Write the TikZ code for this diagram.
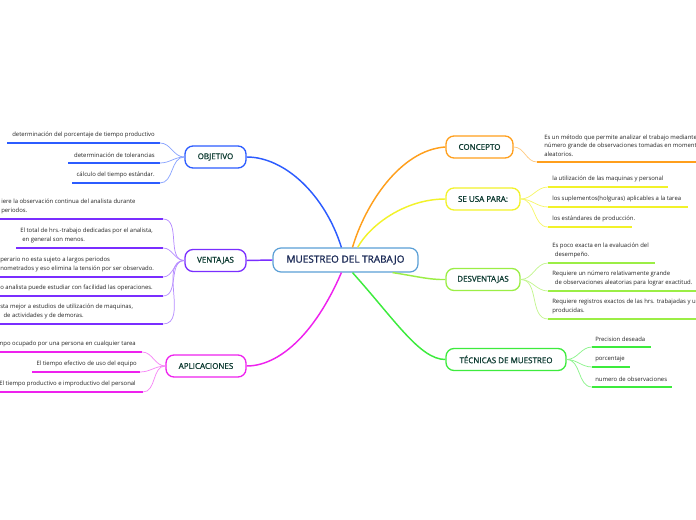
\documentclass[tikz,border=0pt]{standalone}
\usepackage{fontspec}
\setmainfont{Open Sans}
\newfontfamily\topicfont[FakeBold=1.2]{Open Sans}
\usepackage{xcolor}
\usepackage{tikz}

\definecolor{objblue}{HTML}{2C5CFF}
\definecolor{ventviolet}{HTML}{7A2EFF}
\definecolor{aplmagenta}{HTML}{EE22EE}
\definecolor{concorange}{HTML}{FF9F1C}
\definecolor{usayellow}{HTML}{F2F22A}
\definecolor{desvlime}{HTML}{9BEE45}
\definecolor{tecgreen}{HTML}{3DEB3D}
\definecolor{mainblue}{HTML}{5A9FD6}
\definecolor{nodetext}{HTML}{0F3D33}
\definecolor{maintext}{HTML}{1C2B57}
\definecolor{leaftext}{HTML}{222222}

\tikzset{
  topic/.style={draw, line width=1pt, rounded corners=6pt, fill=white,
    minimum height=16.5pt, inner sep=0pt, text=nodetext,
    font=\topicfont\fontsize{6}{7}\selectfont},
  leaf/.style={inner sep=0pt, text=leaftext,
    font=\fontsize{4.45}{6.6}\selectfont},
  uline/.style={line width=1.4pt},
  twig/.style={line width=0.55pt},
  branch/.style={line width=1.1pt}
}

\begin{document}
\begin{tikzpicture}[x=0.75pt, y=-0.75pt]
        \useasboundingbox (0,0) rectangle (696,520);

        % Central topic
        \node[draw=mainblue, line width=0.9pt, rounded corners=6pt, fill=white,
              minimum width=108.75pt, minimum height=18pt, inner sep=0pt,
              text=maintext, font=\topicfont\fontsize{7.5}{9}\selectfont] (main) at (345.5,260) {MUESTREO DEL TRABAJO};

        % Main topics
        \node[topic, draw=objblue, minimum width=45.75pt] (obj) at (215.5,157) {OBJETIVO};
        \node[topic, draw=ventviolet, minimum width=45.75pt] (vent) at (215.5,260.5) {VENTAJAS};
        \node[topic, draw=aplmagenta, minimum width=60pt] (apl) at (206,366) {APLICACIONES};
        \node[topic, draw=concorange, minimum width=50.25pt] (conc) at (479.5,147) {CONCEPTO};
        \node[topic, draw=usayellow, minimum width=55.5pt] (usa) at (483,199) {SE USA PARA:};
        \node[topic, draw=desvlime, minimum width=55.5pt] (desv) at (483,279.5) {DESVENTAJAS};
        \node[topic, draw=tecgreen, minimum width=90pt] (tec) at (506,359.5) {TÉCNICAS DE MUESTREO};

        % Branches from the central topic
        \draw[branch, objblue] (obj.east) .. controls (285,157) and (325,195) .. (main.108);
        \draw[branch, ventviolet] (vent.east) -- (main.west);
        \draw[branch, aplmagenta] (apl.east) .. controls (278,366) and (314,336) .. (main.252);
        \draw[branch, concorange] (main.61) .. controls (365,205) and (400,150) .. (conc.west);
        \draw[branch, usayellow] (main.46) .. controls (370,225) and (405,199) .. (usa.west);
        \draw[branch, desvlime] (main.345) .. controls (415,276) and (430,280) .. (desv.west);
        \draw[branch, tecgreen] (main.299) .. controls (395,320) and (420,359.5) .. (tec.west);

        % OBJETIVO
        \node[leaf, anchor=south east] (o1) at (155,138) {determinación del porcentaje de tiempo productivo};
        \node[leaf, anchor=south east] (o2) at (155,158) {determinación de tolerancias};
        \node[leaf, anchor=south east] (o3) at (155,178) {cálculo del tiempo estándar.};
        \coordinate (o1a) at (7,143);  \coordinate (o1b) at (160,143);
        \coordinate (o2a) at (68,163); \coordinate (o2b) at (160,163);
        \coordinate (o3a) at (72,183); \coordinate (o3b) at (160,183);
        \draw[uline, objblue] (o1a) -- (o1b);
        \draw[uline, objblue] (o2a) -- (o2b);
        \draw[uline, objblue] (o3a) -- (o3b);
        \draw[twig, objblue!55] (obj.west) to[out=180, in=0] (o1b);
        \draw[twig, objblue!55] (obj.west) to[out=180, in=0] (o2b);
        \draw[twig, objblue!55] (obj.west) to[out=180, in=0] (o3b);

        % VENTAJAS
        \node[leaf, anchor=south west, align=left] (v1) at (1,214) {iere la observación continua del analista durante\\periodos.};
        \node[leaf, anchor=south west, align=left] (v2) at (20,243) {El total de hrs.-trabajo dedicadas por el analista,\\\hspace*{1.5pt}en general son menos.};
        \node[leaf, anchor=south west, align=left] (v3) at (0,272) {perario no esta sujeto a largos periodos\\nometrados y eso elimina la tensión por ser observado.};
        \node[leaf, anchor=south west] (v4) at (0,291) {o analista puede estudiar con facilidad las operaciones.};
        \node[leaf, anchor=south west, align=left] (v5) at (0,319) {sta mejor a estudios de utilización de maquinas,\\\hspace*{2.5pt}de actividades y de demoras.};
        \coordinate (v1a) at (0,219);  \coordinate (v1b) at (163,219);
        \coordinate (v2a) at (16,248); \coordinate (v2b) at (163,248);
        \coordinate (v3a) at (0,277);  \coordinate (v3b) at (163,277);
        \coordinate (v4a) at (0,296);  \coordinate (v4b) at (163,296);
        \coordinate (v5a) at (0,324);  \coordinate (v5b) at (163,324);
        \draw[uline, ventviolet] (v1a) -- (v1b);
        \draw[uline, ventviolet] (v2a) -- (v2b);
        \draw[uline, ventviolet] (v3a) -- (v3b);
        \draw[uline, ventviolet] (v4a) -- (v4b);
        \draw[uline, ventviolet] (v5a) -- (v5b);
        \draw[twig, ventviolet!55] (vent.west) to[out=180, in=0] (v1b);
        \draw[twig, ventviolet!55] (vent.west) to[out=180, in=0] (v2b);
        \draw[twig, ventviolet!55] (vent.west) to[out=180, in=0] (v3b);
        \draw[twig, ventviolet!55] (vent.west) to[out=180, in=0] (v4b);
        \draw[twig, ventviolet!55] (vent.west) to[out=180, in=0] (v5b);

        % APLICACIONES
        \node[leaf, anchor=south east] (a1) at (136,347) {mpo ocupado por una persona en cualquier tarea};
        \node[leaf, anchor=south east] (a2) at (137,367) {El tiempo efectivo de uso del equipo};
        \node[leaf, anchor=south east] (a3) at (136,387) {El tiempo productivo e improductivo del personal};
        \coordinate (a1a) at (0,352);  \coordinate (a1b) at (142,352);
        \coordinate (a2a) at (32,372); \coordinate (a2b) at (140,372);
        \coordinate (a3a) at (0,392);  \coordinate (a3b) at (143,392);
        \draw[uline, aplmagenta] (a1a) -- (a1b);
        \draw[uline, aplmagenta] (a2a) -- (a2b);
        \draw[uline, aplmagenta] (a3a) -- (a3b);
        \draw[twig, aplmagenta!55] (apl.west) to[out=180, in=0] (a1b);
        \draw[twig, aplmagenta!55] (apl.west) to[out=180, in=0] (a2b);
        \draw[twig, aplmagenta!55] (apl.west) to[out=180, in=0] (a3b);

        % CONCEPTO
        \node[leaf, anchor=south west, align=left] (c1) at (544,157) {Es un método que permite analizar el trabajo mediante\\número grande de observaciones tomadas en moment\\aleatorios.};
        \coordinate (c1a) at (537,162); \coordinate (c1b) at (696,162);
        \draw[uline, concorange] (c1a) -- (c1b);
        \draw[twig, concorange!55] (conc.east) to[out=0, in=180] (c1a);

        % SE USA PARA
        \node[leaf, anchor=south west] (u1) at (552,182) {la utilización de las maquinas y personal};
        \node[leaf, anchor=south west] (u2) at (552,202) {los suplementos(holguras) aplicables a la tarea};
        \node[leaf, anchor=south west] (u3) at (552,222) {los estándares de producción.};
        \coordinate (u1a) at (548,187); \coordinate (u1b) at (668,187);
        \coordinate (u2a) at (548,207); \coordinate (u2b) at (688,207);
        \coordinate (u3a) at (548,227); \coordinate (u3b) at (632,227);
        \draw[uline, usayellow] (u1a) -- (u1b);
        \draw[uline, usayellow] (u2a) -- (u2b);
        \draw[uline, usayellow] (u3a) -- (u3b);
        \draw[twig, usayellow!70] (usa.east) to[out=0, in=180] (u1a);
        \draw[twig, usayellow!70] (usa.east) to[out=0, in=180] (u2a);
        \draw[twig, usayellow!70] (usa.east) to[out=0, in=180] (u3a);

        % DESVENTAJAS
        \node[leaf, anchor=south west, align=left] (d1) at (552,258) {Es poco exacta en la evaluación del\\\hspace*{2pt}desempeño.};
        \node[leaf, anchor=south west, align=left] (d2) at (552,286) {Requiere un número relativamente grande\\\hspace*{2pt}de observaciones aleatorias para lograr exactitud.};
        \node[leaf, anchor=south west, align=left] (d3) at (552,314) {Requiere registros exactos de las hrs. trabajadas y u\\producidas.};
        \coordinate (d1a) at (548,263); \coordinate (d1b) at (655,263);
        \coordinate (d2a) at (548,291); \coordinate (d2b) at (696,291);
        \coordinate (d3a) at (548,319); \coordinate (d3b) at (696,319);
        \draw[uline, desvlime] (d1a) -- (d1b);
        \draw[uline, desvlime] (d2a) -- (d2b);
        \draw[uline, desvlime] (d3a) -- (d3b);
        \draw[twig, desvlime!60] (desv.east) to[out=0, in=180] (d1a);
        \draw[twig, desvlime!60] (desv.east) to[out=0, in=180] (d2a);
        \draw[twig, desvlime!60] (desv.east) to[out=0, in=180] (d3a);

        % TECNICAS DE MUESTREO
        \node[leaf, anchor=south west] (t1) at (595,342) {Precision deseada};
        \node[leaf, anchor=south west] (t2) at (595,362) {porcentaje};
        \node[leaf, anchor=south west] (t3) at (595,382) {numero de observaciones};
        \coordinate (t1a) at (592,347); \coordinate (t1b) at (651,347);
        \coordinate (t2a) at (592,367); \coordinate (t2b) at (630,367);
        \coordinate (t3a) at (592,387); \coordinate (t3b) at (672,387);
        \draw[uline, tecgreen] (t1a) -- (t1b);
        \draw[uline, tecgreen] (t2a) -- (t2b);
        \draw[uline, tecgreen] (t3a) -- (t3b);
        \draw[twig, tecgreen!60] (tec.east) to[out=0, in=180] (t1a);
        \draw[twig, tecgreen!60] (tec.east) to[out=0, in=180] (t2a);
        \draw[twig, tecgreen!60] (tec.east) to[out=0, in=180] (t3a);
\end{tikzpicture}
\end{document}
